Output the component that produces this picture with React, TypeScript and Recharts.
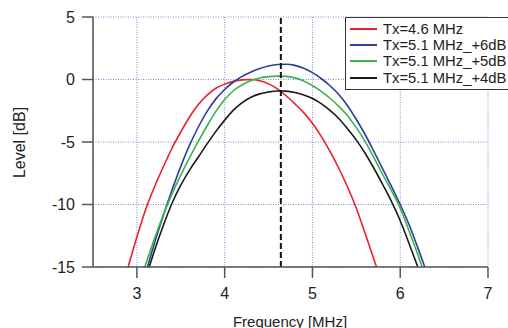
import { LineChart, Line, XAxis, YAxis, CartesianGrid, ReferenceLine, Legend, Label } from 'recharts';

const FONT = '"Liberation Sans", Arial, sans-serif';

// Tx=4.6 MHz
const redFreq = [2.9, 3.0, 3.1, 3.2, 3.3, 3.4, 3.5, 3.6, 3.7, 3.8, 3.9, 4.0, 4.1, 4.2, 4.3, 4.4, 4.5, 4.6, 4.7, 4.8, 4.9, 5.0, 5.1, 5.2, 5.3, 5.4, 5.5, 5.6, 5.73];
const redLevel = [-15, -12.6, -10.4, -8.6, -7.0, -5.5, -4.2, -3.0, -2.0, -1.25, -0.7, -0.37, -0.15, -0.03, 0, -0.1, -0.35, -0.75, -1.3, -1.95, -2.65, -3.5, -4.55, -5.75, -7.1, -8.6, -10.3, -12.3, -15];

// Tx=5.1 MHz_+6dB
const blueFreq = [3.12, 3.2, 3.3, 3.4, 3.5, 3.6, 3.7, 3.8, 3.9, 4.0, 4.1, 4.2, 4.3, 4.4, 4.5, 4.6, 4.7, 4.8, 4.9, 5.0, 5.1, 5.2, 5.3, 5.4, 5.5, 5.6, 5.7, 5.8, 5.9, 6.0, 6.1, 6.2, 6.28];
const blueLevel = [-15, -13.1, -10.9, -8.85, -6.95, -5.25, -3.8, -2.55, -1.55, -0.8, -0.2, 0.25, 0.6, 0.88, 1.08, 1.2, 1.22, 1.13, 0.9, 0.55, 0.08, -0.5, -1.2, -2.1, -3.2, -4.4, -5.75, -7.15, -8.55, -10.0, -11.6, -13.45, -15];

// Tx=5.1 MHz_+5dB
const greenFreq = [3.09, 3.2, 3.3, 3.4, 3.5, 3.6, 3.7, 3.8, 3.9, 4.0, 4.1, 4.2, 4.3, 4.4, 4.5, 4.6, 4.7, 4.8, 4.9, 5.0, 5.1, 5.2, 5.3, 5.4, 5.5, 5.6, 5.7, 5.8, 5.9, 6.0, 6.1, 6.2, 6.25];
const greenLevel = [-15, -12.75, -10.85, -9.15, -7.65, -6.25, -4.95, -3.7, -2.55, -1.6, -0.9, -0.42, -0.08, 0.12, 0.23, 0.27, 0.25, 0.13, -0.12, -0.48, -0.95, -1.5, -2.15, -2.9, -3.85, -4.95, -6.25, -7.6, -8.9, -10.3, -12.1, -14.0, -15];

// Tx=5.1 MHz_+4dB
const blackFreq = [3.14, 3.2, 3.3, 3.4, 3.5, 3.6, 3.7, 3.8, 3.9, 4.0, 4.1, 4.2, 4.3, 4.4, 4.5, 4.6, 4.7, 4.8, 4.9, 5.0, 5.1, 5.2, 5.3, 5.4, 5.5, 5.6, 5.7, 5.8, 5.9, 6.0, 6.1, 6.2];
const blackLevel = [-15, -13.7, -11.7, -9.9, -8.45, -7.25, -6.2, -5.15, -4.15, -3.25, -2.45, -1.85, -1.42, -1.15, -1.0, -0.92, -0.93, -1.04, -1.24, -1.52, -1.93, -2.47, -3.12, -3.95, -4.85, -5.9, -7.1, -8.4, -9.75, -11.3, -13.1, -15];

const xTicks = [3, 4, 5, 6, 7];
const yTicks = [-15, -10, -5, 0, 5];
const markerFreq = 4.64;

const series = [
  { key: 'red', name: 'Tx=4.6 MHz', color: '#e8212b', freq: redFreq, level: redLevel },
  { key: 'blue', name: 'Tx=5.1 MHz_+6dB', color: '#2b3f98', freq: blueFreq, level: blueLevel },
  { key: 'green', name: 'Tx=5.1 MHz_+5dB', color: '#3bb34a', freq: greenFreq, level: greenLevel },
  { key: 'black', name: 'Tx=5.1 MHz_+4dB', color: '#1a1a1a', freq: blackFreq, level: blackLevel },
];

// one table keyed by frequency, each series filling its own column
const table = (() => {
  const rows = new Map<number, Record<string, number>>();
  series.forEach((s) => {
    s.freq.forEach((f, i) => {
      const row = rows.get(f) ?? { f };
      row[s.key] = s.level[i];
      rows.set(f, row);
    });
  });
  return [...rows.values()].sort((a, b) => a.f - b.f);
})();

function LegendBox() {
  return (
    <div
      style={{
        width: 162,
        height: 71,
        border: '1px solid #333',
        background: '#fff',
        fontFamily: FONT,
        fontSize: 14.8,
        color: '#222',
        position: 'relative',
      }}
    >
      {series.map((s, i) => (
        <div key={s.key} style={{ position: 'absolute', left: 4, top: 3 + i * 16.2, height: 16, display: 'flex', alignItems: 'center' }}>
          <div style={{ width: 27, height: 2, background: s.color }} />
          <span style={{ marginLeft: 6, lineHeight: '16px', whiteSpace: 'nowrap' }}>{s.name}</span>
        </div>
      ))}
    </div>
  );
}

export default function App() {
  const axisColor = '#555';
  const tick = { fontSize: 16, fill: '#222', fontFamily: FONT };

  return (
    <div style={{ position: 'fixed', left: 0, top: 0, width: 508, height: 328, background: '#fff' }}>
      <LineChart data={table} width={508} height={328} margin={{ top: 17, right: 20, bottom: 0, left: 0 }}>
        <CartesianGrid stroke="#8088d4" strokeDasharray="1 1.5" />
        <XAxis
          type="number"
          dataKey="f"
          domain={[2.5, 7]}
          ticks={xTicks}
          allowDataOverflow
          height={61}
          tickSize={11}
          tickMargin={10}
          stroke={axisColor}
          strokeWidth={1.5}
          tick={tick}
        >
          <Label
            content={() => (
              <text x={290} y={326.5} textAnchor="middle" fontSize={15} fontFamily={FONT} fill="#222">
                Frequency [MHz]
              </text>
            )}
          />
        </XAxis>
        <YAxis
          type="number"
          domain={[-15, 5]}
          ticks={yTicks}
          allowDataOverflow
          width={93}
          tickSize={11}
          tickMargin={7}
          stroke={axisColor}
          strokeWidth={1.5}
          tick={tick}
        >
          <Label
            content={() => (
              <text x={25} y={142.5} transform="rotate(-90, 25, 142.5)" textAnchor="middle" fontSize={16} fontFamily={FONT} fill="#222">
                Level [dB]
              </text>
            )}
          />
        </YAxis>
        {series.map((s) => (
          <Line
            key={s.key}
            dataKey={s.key}
            name={s.name}
            type="monotone"
            connectNulls
            stroke={s.color}
            strokeWidth={1.6}
            dot={false}
            activeDot={false}
            isAnimationActive={false}
          />
        ))}
        <ReferenceLine x={markerFreq} stroke="#111" strokeWidth={2} strokeDasharray="6 3" />
        <Legend
          layout="vertical"
          align="center"
          verticalAlign="middle"
          content={() => <LegendBox />}
          wrapperStyle={{ position: 'absolute', left: 345, top: 17, width: 164, height: 73 }}
        />
      </LineChart>
    </div>
  );
}
